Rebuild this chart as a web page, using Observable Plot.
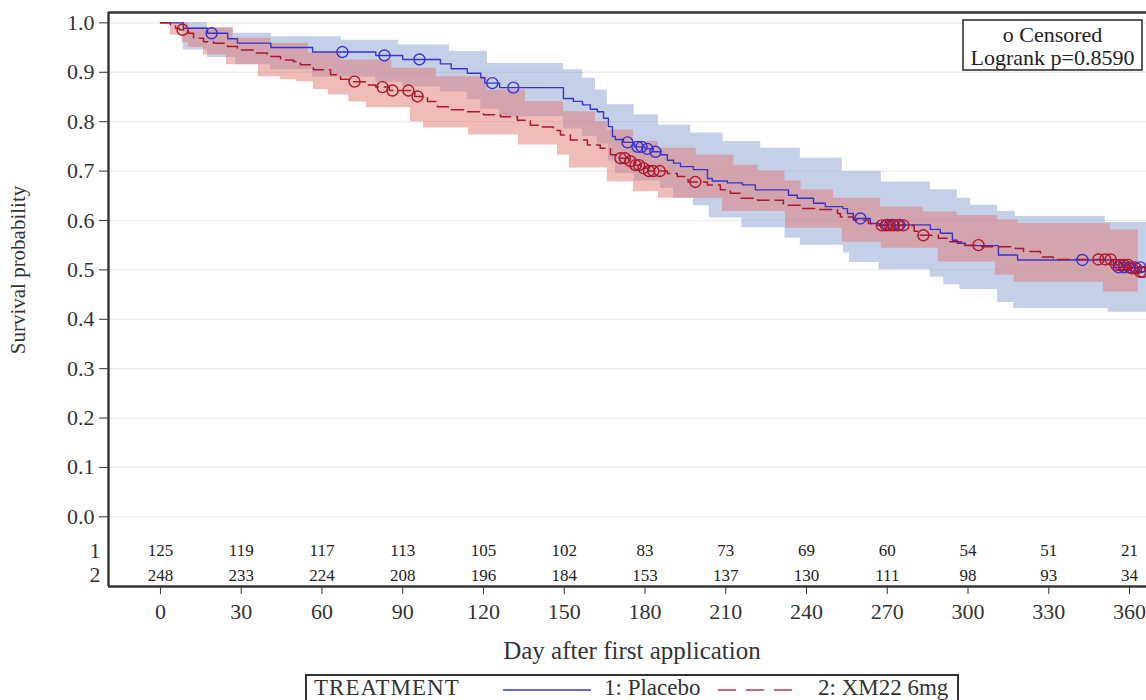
<!DOCTYPE html>
<html>
<head>
<meta charset="utf-8">
<script src="https://cdn.jsdelivr.net/npm/d3@7"></script>
<script src="https://cdn.jsdelivr.net/npm/@observablehq/plot@0.6"></script>
<style>
  html, body { margin: 0; padding: 0; background: #fff; overflow: hidden; }
  #wrap { position: relative; width: 1146px; height: 700px; font-family: 'Liberation Serif', 'Times New Roman', serif; color: #333; }
  #legend { position: absolute; left: 305px; top: 674px; width: 650px; height: 26px; border: 2px solid #333; border-bottom: none; background: #fff; font-size: 23px; line-height: 23px; }
  #legend span, #legend svg { position: absolute; }
  #legend span { top: 0px; white-space: nowrap; }
</style>
</head>
<body>
<div id="wrap"></div>
<script>
// ---------- data ----------
const xTicks = [0, 30, 60, 90, 120, 150, 180, 210, 240, 270, 300, 330, 360];
const yTicks = [0, 0.1, 0.2, 0.3, 0.4, 0.5, 0.6, 0.7, 0.8, 0.9, 1.0];

// Kaplan-Meier step curves (day, survival)
const placeboDay  = [0, 8.5, 17.5, 25, 28.6, 41, 56.5, 80, 90, 104, 108, 114, 119, 120.5, 126, 149.7, 153.4, 156.8, 159.7, 162.3, 164.6, 166.4, 167.9, 169, 172, 176, 180, 183, 185.7, 188.3, 190.6, 193.2, 198, 203.2, 205, 210.6, 216.2, 221, 233.3, 236.6, 242.6, 247, 253.5, 255.2, 257.4, 263.7, 267, 286, 289.7, 294.2, 296, 299, 311.3, 318.4, 354, 366.3];
const placeboSurv = [1.0, 0.989, 0.979, 0.968, 0.959, 0.950, 0.941, 0.934, 0.926, 0.917, 0.907, 0.898, 0.889, 0.878, 0.869, 0.847, 0.841, 0.834, 0.825, 0.820, 0.807, 0.790, 0.770, 0.764, 0.758, 0.749, 0.745, 0.739, 0.733, 0.722, 0.716, 0.709, 0.703, 0.685, 0.680, 0.676, 0.672, 0.662, 0.651, 0.645, 0.635, 0.628, 0.624, 0.614, 0.604, 0.594, 0.591, 0.582, 0.574, 0.560, 0.554, 0.549, 0.530, 0.520, 0.505, 0.505];

const xm22Day  = [0, 3.7, 5.6, 7, 10.4, 12.3, 16, 19.7, 24.9, 28.6, 34.5, 39.7, 44.6, 49.4, 52, 56.8, 63.2, 66.9, 70, 76.9, 80, 85, 94.5, 99.2, 102.9, 107.7, 114, 120, 126.3, 132.6, 137.4, 141.2, 146, 148.6, 152.3, 158.6, 163.4, 167.2, 170, 174, 176, 178.5, 181, 188.3, 192, 196, 203.2, 208, 211.7, 215.5, 221.8, 231.4, 237.7, 244, 251.5, 252.6, 257.4, 263, 266, 280, 282, 289, 292.3, 298.3, 305, 317.6, 320.6, 326.9, 331.7, 355, 360, 363, 365.5];
const xm22Surv = [1.0, 0.996, 0.989, 0.986, 0.979, 0.969, 0.962, 0.959, 0.952, 0.945, 0.939, 0.932, 0.925, 0.922, 0.915, 0.905, 0.895, 0.886, 0.881, 0.874, 0.870, 0.863, 0.851, 0.841, 0.830, 0.824, 0.820, 0.814, 0.810, 0.803, 0.793, 0.789, 0.782, 0.773, 0.763, 0.753, 0.746, 0.733, 0.726, 0.720, 0.712, 0.706, 0.700, 0.695, 0.689, 0.678, 0.672, 0.662, 0.655, 0.645, 0.641, 0.631, 0.624, 0.622, 0.614, 0.607, 0.601, 0.594, 0.590, 0.578, 0.570, 0.564, 0.557, 0.550, 0.547, 0.543, 0.537, 0.526, 0.521, 0.510, 0.503, 0.496, 0.496];

// Censored observations
const placeboCensDay  = [19, 67.6, 83.2, 96.2, 123.3, 131.1, 173.5, 177.2, 178.7, 180.9, 183.9, 260, 270, 272, 274.5, 342.5, 356, 358, 360, 362, 364];
const placeboCensSurv = [0.979, 0.941, 0.934, 0.926, 0.878, 0.869, 0.758, 0.749, 0.749, 0.745, 0.739, 0.604, 0.591, 0.591, 0.591, 0.520, 0.505, 0.505, 0.505, 0.505, 0.505];
const xm22CensDay  = [8.2, 72.1, 82.5, 86.2, 92.1, 95.5, 170.9, 172.5, 174.6, 176.5, 177.8, 179.4, 181.5, 183.1, 185.5, 198.7, 268, 269.5, 271, 272.5, 274, 276, 283.4, 303.9, 348.4, 351, 353, 355, 356.5, 358, 359.5, 361, 362.5, 364, 365];
const xm22CensSurv = [0.986, 0.881, 0.870, 0.863, 0.863, 0.851, 0.726, 0.726, 0.720, 0.712, 0.712, 0.706, 0.700, 0.700, 0.700, 0.678, 0.590, 0.590, 0.590, 0.590, 0.590, 0.590, 0.570, 0.550, 0.521, 0.521, 0.521, 0.510, 0.510, 0.510, 0.510, 0.503, 0.503, 0.496, 0.496];

// Confidence bands (step functions)
const placeboUpDay = [0, 17.5, 27.1, 41.2, 67.2, 88.4, 107.4, 121.5, 149.7, 156.8, 161.6, 166, 176, 185, 197, 209, 223, 237.7, 253.3, 267.8, 286, 296, 301, 311, 317.5, 351];
const placeboUp    = [1.0, 0.989, 0.979, 0.972, 0.965, 0.955, 0.942, 0.918, 0.905, 0.888, 0.864, 0.834, 0.814, 0.793, 0.777, 0.760, 0.746, 0.726, 0.699, 0.678, 0.662, 0.645, 0.631, 0.618, 0.608, 0.596];
const placeboLoDay = [0, 8.5, 17.5, 28, 41, 56.5, 80, 90, 104, 114, 119, 126, 149.7, 156.8, 162.3, 166.4, 169, 176, 185.7, 190.6, 198, 203.9, 216, 232, 237.7, 253.7, 256, 267, 286, 291, 297, 311, 317, 352];
const placeboLo    = [1.0, 0.945, 0.930, 0.915, 0.905, 0.890, 0.880, 0.870, 0.860, 0.845, 0.825, 0.810, 0.785, 0.770, 0.755, 0.720, 0.695, 0.680, 0.665, 0.645, 0.630, 0.605, 0.585, 0.564, 0.550, 0.534, 0.515, 0.500, 0.485, 0.470, 0.460, 0.434, 0.422, 0.414];
const placeboBandEnd = 366.3;

const xm22UpDay = [0, 10.4, 27, 41, 55, 67, 86, 102.5, 121.5, 135.6, 149.7, 161.6, 166, 175.7, 185, 199, 213, 222, 232, 238, 250, 267.5, 283.4, 296, 311, 318.4, 352.9];
const xm22Up    = [1.0, 0.990, 0.969, 0.959, 0.939, 0.925, 0.908, 0.891, 0.864, 0.841, 0.820, 0.800, 0.783, 0.760, 0.746, 0.732, 0.712, 0.700, 0.680, 0.662, 0.645, 0.627, 0.617, 0.610, 0.601, 0.594, 0.581];
const xm22LoDay = [0, 3.7, 8, 10.4, 16, 24.5, 36.4, 44.6, 50.5, 56.8, 62.4, 70, 76.5, 92.9, 97.7, 114.4, 133, 147.5, 151.9, 166, 175.7, 185, 208.8, 232.2, 253.3, 267.8, 289, 310.2, 317.2, 350.3];
const xm22Lo    = [1.0, 0.975, 0.960, 0.950, 0.935, 0.915, 0.891, 0.885, 0.881, 0.865, 0.854, 0.840, 0.828, 0.800, 0.787, 0.773, 0.753, 0.732, 0.706, 0.678, 0.658, 0.645, 0.618, 0.584, 0.556, 0.544, 0.516, 0.489, 0.475, 0.455];
const xm22BandEnd = 363.3;

// Number at risk
const atRiskDay     = [0, 30, 60, 90, 120, 150, 180, 210, 240, 270, 300, 330, 360];
const atRiskPlacebo = [125, 119, 117, 113, 105, 102, 83, 73, 69, 60, 54, 51, 21];
const atRiskXM22    = [248, 233, 224, 208, 196, 184, 153, 137, 130, 111, 98, 93, 34];
const atRiskRows    = ["1", "2"];

// ---------- build tables ----------
const colPlacebo = "#3434d2", colXM22 = "#b0162c";
function rows(days, vals) { return days.map((d, i) => ({day: d, v: vals[i]})); }
function stepFn(days, vals) {
  return d => { let v = vals[0]; for (let i = 0; i < days.length; i++) { if (days[i] <= d) v = vals[i]; else break; } return v; };
}
function band(upD, upV, loD, loV, end) {
  const ds = Array.from(new Set([...upD, ...loD])).sort((a, b) => a - b).filter(d => d < end);
  ds.push(end);
  const fu = stepFn(upD, upV), fl = stepFn(loD, loV);
  return ds.map(d => ({day: d, lo: fl(d), hi: fu(d)}));
}
const placeboLine = rows(placeboDay, placeboSurv);
const xm22Line = rows(xm22Day, xm22Surv);
const placeboCens = rows(placeboCensDay, placeboCensSurv);
const xm22Cens = rows(xm22CensDay, xm22CensSurv);
const placeboBand = band(placeboUpDay, placeboUp, placeboLoDay, placeboLo, placeboBandEnd);
const xm22Band = band(xm22UpDay, xm22Up, xm22LoDay, xm22Lo, xm22BandEnd);

const xMin = -19.3, xMax = 366.3, yMin = -0.141, yMax = 1.021;
const row1 = -0.069, row2 = -0.1185;

const chart = Plot.plot({
  width: 1146,
  height: 668,
  marginLeft: 108,
  marginRight: 0,
  marginTop: 12,
  marginBottom: 82,
  style: {fontFamily: "'Liberation Serif', 'Times New Roman', serif", fontSize: "22px", color: "#333", background: "#fff", overflow: "visible"},
  x: {domain: [xMin, xMax], ticks: xTicks, tickSize: 8, tickPadding: 9, tickFormat: d => String(d), label: null},
  y: {domain: [yMin, yMax], ticks: yTicks, tickSize: 9, tickPadding: 5, tickFormat: d => d.toFixed(1), label: null},
  marks: [
    Plot.ruleY(yTicks, {x1: xMin, x2: xMax, stroke: "#ebebeb", strokeWidth: 1.3}),
    Plot.areaY(placeboBand, {x: "day", y1: "lo", y2: "hi", curve: "step-after", fill: "#8aa0d2", fillOpacity: 0.5}),
    Plot.areaY(xm22Band, {x: "day", y1: "lo", y2: "hi", curve: "step-after", fill: "#e17971", fillOpacity: 0.5}),
    Plot.line(placeboLine, {x: "day", y: "v", curve: "step-after", stroke: colPlacebo, strokeWidth: 1.4}),
    Plot.line(xm22Line, {x: "day", y: "v", curve: "step-after", stroke: colXM22, strokeWidth: 1.5, strokeDasharray: "12,6"}),
    Plot.dot(placeboCens, {x: "day", y: "v", r: 5.5, stroke: colPlacebo, strokeWidth: 1.4, fill: "none"}),
    Plot.dot(xm22Cens, {x: "day", y: "v", r: 5.5, stroke: colXM22, strokeWidth: 1.4, fill: "none"}),
    Plot.text(atRiskDay, {x: d => d, y: () => row1, text: (d, i) => String(atRiskPlacebo[i]), fontSize: 17, fill: "#222"}),
    Plot.text(atRiskDay, {x: d => d, y: () => row2, text: (d, i) => String(atRiskXM22[i]), fontSize: 17, fill: "#222"}),
    Plot.text(atRiskRows, {x: () => xMin, y: (d, i) => [row1, row2][i], text: d => d, textAnchor: "end", dx: -8, fontSize: 22, fill: "#333"}),
    Plot.ruleX([xMin], {y1: yMin, y2: yMax, stroke: "#333", strokeWidth: 2.4}),
    Plot.ruleY([yMin, yMax], {x1: xMin, x2: xMax, stroke: "#333", strokeWidth: 2.4})
  ]
});

const wrap = document.getElementById("wrap");
wrap.appendChild(chart);
chart.style.position = "absolute";
chart.style.left = "0px";
chart.style.top = "0px";

const svg = d3.select(chart);
svg.append("text").attr("x", 632).attr("y", 659).attr("text-anchor", "middle")
  .attr("font-size", 25).attr("fill", "#333").text("Day after first application");
svg.append("text").attr("transform", "translate(25,270) rotate(-90)").attr("text-anchor", "middle")
  .attr("font-size", 21).attr("fill", "#333").text("Survival probability");
const box = svg.append("g");
box.append("rect").attr("x", 963).attr("y", 20).attr("width", 179).attr("height", 50)
  .attr("fill", "#fff").attr("stroke", "#333").attr("stroke-width", 1.6);
box.append("text").attr("x", 1052.5).attr("y", 42).attr("text-anchor", "middle").attr("font-size", 22).attr("fill", "#222").text("o Censored");
box.append("text").attr("x", 1052.5).attr("y", 65).attr("text-anchor", "middle").attr("font-size", 22).attr("fill", "#222").text("Logrank p=0.8590");

// legend below the chart
const legend = document.createElement("div");
legend.id = "legend";
legend.innerHTML = `
  <span style="left:7px; letter-spacing:1px;">TREATMENT</span>
  <svg style="left:196px; top:8px;" width="90" height="12"><line x1="0" y1="6" x2="88" y2="6" stroke="${colPlacebo}" stroke-opacity="0.75" stroke-width="2"/></svg>
  <span style="left:297px;">1: Placebo</span>
  <svg style="left:411px; top:8px;" width="90" height="12"><line x1="0" y1="6" x2="84" y2="6" stroke="${colXM22}" stroke-opacity="0.65" stroke-width="2" stroke-dasharray="18,10"/></svg>
  <span style="left:511px;">2: XM22 6mg</span>`;
wrap.appendChild(legend);
</script>
</body>
</html>
